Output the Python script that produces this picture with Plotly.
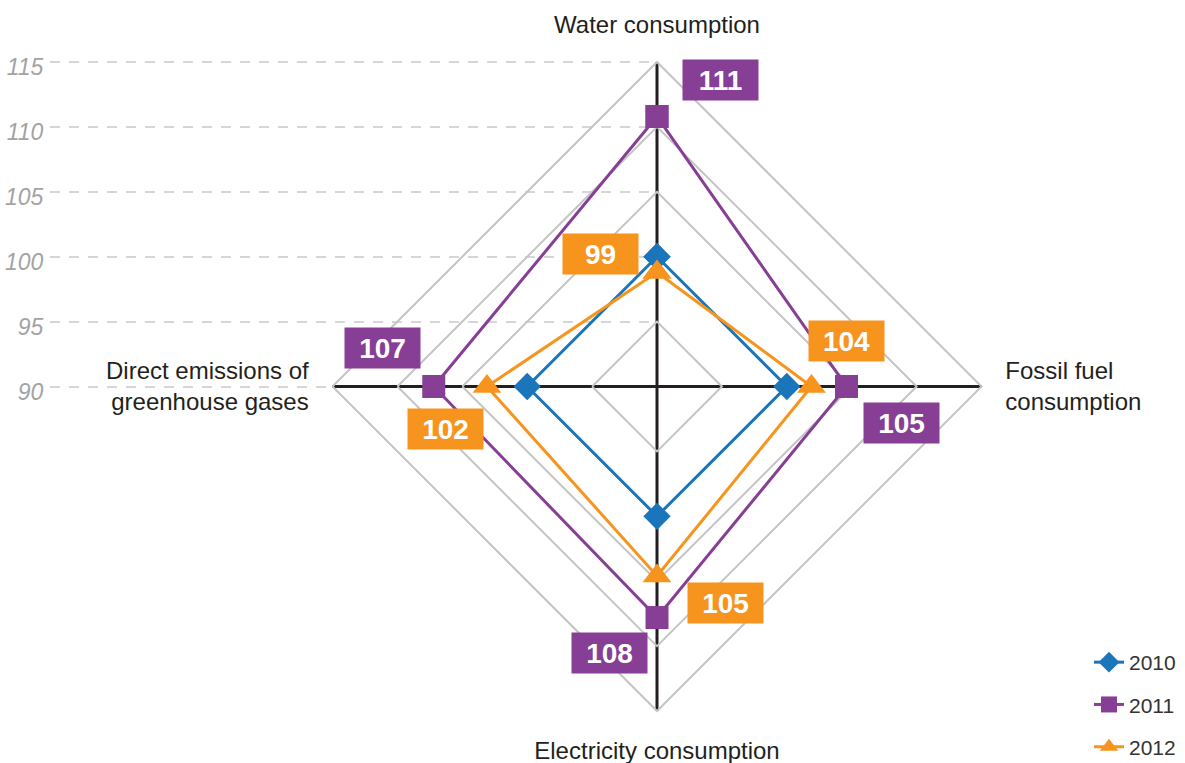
import numpy as np
import plotly.graph_objects as go

# ---------------- data ----------------
categories = ["Water consumption", "Fossil fuel consumption",
              "Electricity consumption", "Direct emissions of greenhouse gases"]
category_ticktext = ["Water consumption", "Fossil fuel<br>consumption",
                     "Electricity consumption", "Direct emissions of<br>greenhouse gases"]
years = ["2010", "2011", "2012"]
values_2010 = [100, 100, 100, 100]
values_2011 = [110.8, 104.6, 107.8, 107.2]
values_2012 = [98.8, 101.9, 104.6, 103.1]
labels_2011 = ["111", "105", "108", "107"]
labels_2012 = ["99", "104", "105", "102"]
radial_ticks = [90, 95, 100, 105, 110, 115]

# ---------------- styles ----------------
colors = {"2010": "#1a75bb", "2011": "#873f96", "2012": "#f7941e"}
symbols = {"2010": "diamond", "2011": "square", "2012": "triangle-up"}
sizes = {"2010": 21, "2011": 23, "2012": 25}
# label box offsets in px (dx right, dy down) relative to each point
offsets_2011 = [(63.5, -37), (54.5, 36.5), (-47.5, 35), (-51.5, -38.5)]
offsets_2012 = [(-56.5, -18.5), (35, -46), (68.5, 27), (-41.5, 42.5)]

W, H = 1185, 763
cx, cy, R = 657, 386.5, 324.5
rmin, rmax = 90, 115
ppu = R / (rmax - rmin)

px_dom = [(cx - R) / W, (cx + R) / W]
py_dom = [1 - (cy + R) / H, 1 - (cy - R) / H]

fig = go.Figure()

ext = 1.0
fig.add_trace(go.Scatter(x=[0], y=[rmin], xaxis="x3", yaxis="y3", mode="markers",
                         marker=dict(opacity=0), showlegend=False, hoverinfo="skip"))
fig.add_trace(go.Scatter(x=[0], y=[0], xaxis="x2", yaxis="y2", mode="markers",
                         marker=dict(opacity=0), showlegend=False, hoverinfo="skip"))

series = {"2010": values_2010, "2011": values_2011, "2012": values_2012}
for yr in years:
    v = series[yr]
    fig.add_trace(go.Scatterpolar(
        r=v + v[:1], theta=categories + categories[:1], name=yr,
        mode="lines+markers", legendgroup=yr,
        line=dict(color=colors[yr], width=3),
        marker=dict(symbol=symbols[yr], size=sizes[yr], color=colors[yr]),
    ))

annotations = []
for vals, labs, offs, yr in [(values_2011, labels_2011, offsets_2011, "2011"),
                              (values_2012, labels_2012, offsets_2012, "2012")]:
    for k, (val, lab, (dx, dy)) in enumerate(zip(vals, labs, offs)):
        ang = np.pi / 2 - k * np.pi / 2
        rr = val - rmin
        annotations.append(dict(
            x=float(rr * np.cos(ang)), y=float(rr * np.sin(ang)), xref="x2", yref="y2",
            text="<b>%s</b>" % lab, showarrow=False, xshift=dx, yshift=-dy,
            bgcolor=colors[yr], width=75, height=40, borderpad=0,
            font=dict(family="Liberation Sans, Arial, sans-serif", size=28, color="white"),
            xanchor="center", yanchor="middle", align="center", valign="middle"))

y3_lo = rmin - (rmax - rmin) - ext
y3_hi = rmax + ext
fig.update_layout(
    width=W, height=H,
    margin=dict(l=0, r=0, t=0, b=0, autoexpand=False),
    paper_bgcolor="white", plot_bgcolor="rgba(0,0,0,0)",
    polar=dict(
        domain=dict(x=px_dom, y=py_dom),
        bgcolor="rgba(0,0,0,0)",
        gridshape="linear",
        radialaxis=dict(range=[rmin, rmax], tickvals=radial_ticks[1:], showticklabels=False,
                        ticks="", showline=False, gridcolor="#c4c4c4", gridwidth=2,
                        layer="below traces"),
        angularaxis=dict(rotation=90, direction="clockwise",
                         tickvals=categories, ticktext=category_ticktext,
                         tickfont=dict(family="Liberation Sans, Arial, sans-serif",
                                       size=24, color="#231f20"),
                         ticks="outside", ticklen=18, tickcolor="rgba(0,0,0,0)",
                         gridcolor="#231f20", gridwidth=2.5,
                         showline=True, linecolor="#c4c4c4", linewidth=2,
                         layer="below traces"),
    ),
    xaxis2=dict(domain=px_dom, range=[-(rmax - rmin), rmax - rmin], visible=False,
                anchor="y2", fixedrange=True),
    yaxis2=dict(domain=py_dom, range=[-(rmax - rmin), rmax - rmin], visible=False,
                anchor="x2", fixedrange=True),
    xaxis3=dict(domain=[50 / W, cx / W], range=[0, 1], visible=True, showgrid=False,
                showticklabels=False, zeroline=False, showline=False, ticks="", anchor="y3"),
    yaxis3=dict(domain=[1 - (cy + R + ext * ppu) / H, 1 - (cy - R - ext * ppu) / H],
                range=[y3_lo, y3_hi], tickvals=radial_ticks, anchor="x3",
                showgrid=True, gridcolor="#d6d6d6", gridwidth=1.5, griddash="10px,9px",
                zeroline=False, showline=False, ticks="outside", ticklen=1,
                tickcolor="rgba(0,0,0,0)", ticklabelshift=5,
                tickfont=dict(family="Liberation Sans, Arial, sans-serif",
                              size=23, color="#a3a3a3", style="italic")),
    legend=dict(x=1089 / W, xanchor="left", y=1 - 642 / H, yanchor="top",
                tracegroupgap=12, bgcolor="rgba(0,0,0,0)",
                font=dict(family="Liberation Sans, Arial, sans-serif", size=21, color="#333333")),
    annotations=annotations,
    showlegend=True,
)
fig.write_html("out.html", config={"displayModeBar": False},
               post_script="document.body.style.margin='0';")
